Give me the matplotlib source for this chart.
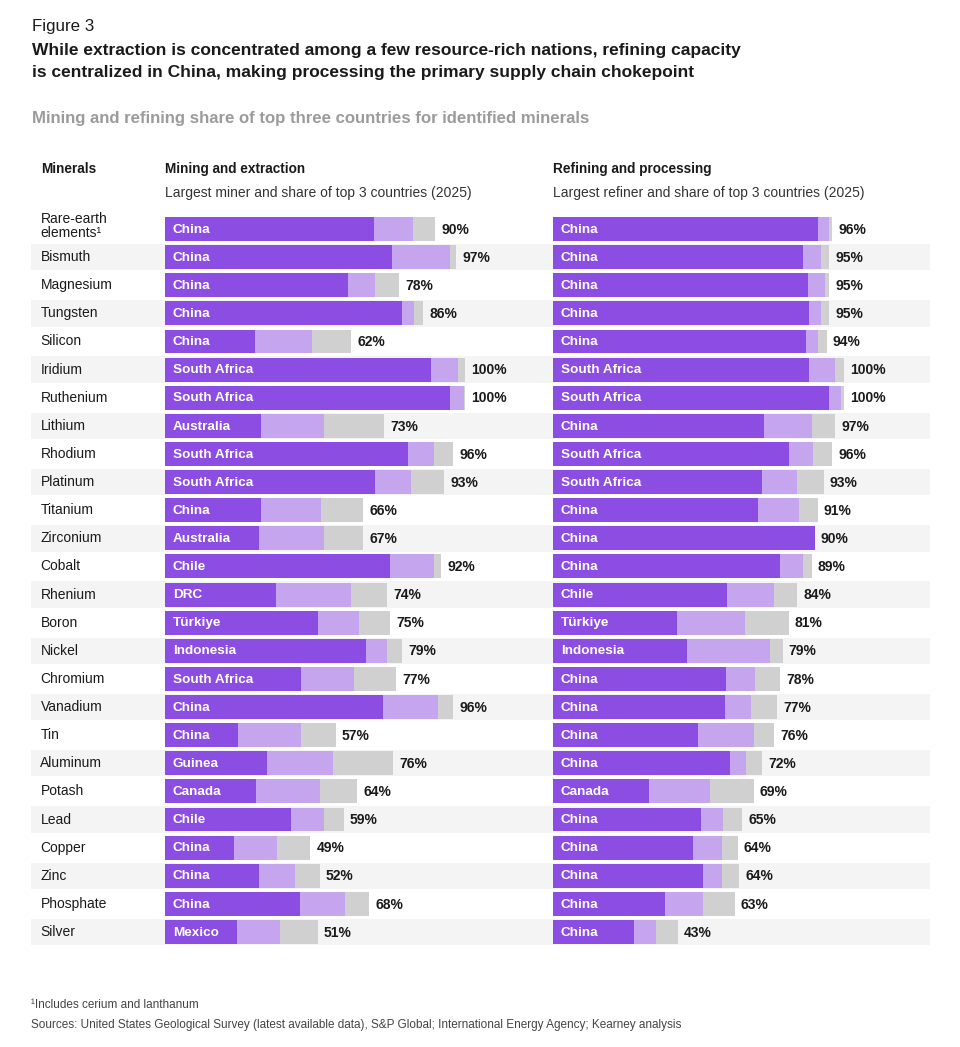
import numpy as np
import matplotlib

matplotlib.use("Agg")

import matplotlib.pyplot as plt

plt.rcParams["font.family"] = ["Liberation Sans", "DejaVu Sans"]

W, H = 960, 1047

DARK = "#8c4de3"
LIGHT = "#c6a5ef"
GREY = "#d0d0d0"
BAND = "#f4f4f4"
INK = "#1a1a1a"

minerals = [
    "Rare-earth\nelements¹", "Bismuth", "Magnesium", "Tungsten", "Silicon", "Iridium",
    "Ruthenium", "Lithium", "Rhodium", "Platinum", "Titanium", "Zirconium", "Cobalt",
    "Rhenium", "Boron", "Nickel", "Chromium", "Vanadium", "Tin", "Aluminum", "Potash",
    "Lead", "Copper", "Zinc", "Phosphate", "Silver",
]

# mining and extraction
mine_leader = [
    "China", "China", "China", "China", "China", "South Africa", "South Africa", "Australia",
    "South Africa", "South Africa", "China", "Australia", "Chile", "DRC", "Türkiye",
    "Indonesia", "South Africa", "China", "China", "Guinea", "Canada", "Chile", "China",
    "China", "China", "Mexico",
]
mine_first = [69.5, 75.5, 61, 79, 30, 88.5, 95, 32, 81, 70, 32, 31.5, 75, 37, 51, 67,
              45.5, 72.5, 24.5, 34, 30.5, 42, 23, 31.5, 45, 24]
mine_second = [13, 19.5, 9, 4, 19, 9, 4.5, 21, 8.5, 12, 20, 21.5, 14.5, 25, 13.5, 7,
               17.5, 18.5, 21, 22, 21, 11, 14.5, 12, 15, 14.5]
mine_third = [7.5, 2, 8, 3, 13, 2.5, 0.5, 20, 6.5, 11, 14, 13, 2.5, 12, 10.5, 5,
              14, 5, 11.5, 20, 12.5, 6.5, 11, 8, 8, 12.5]
mine_total = ["90%", "97%", "78%", "86%", "62%", "100%", "100%", "73%", "96%", "93%",
              "66%", "67%", "92%", "74%", "75%", "79%", "77%", "96%", "57%", "76%",
              "64%", "59%", "49%", "52%", "68%", "51%"]

# refining and processing
refine_leader = [
    "China", "China", "China", "China", "China", "South Africa", "South Africa", "China",
    "South Africa", "South Africa", "China", "China", "China", "Chile", "Türkiye",
    "Indonesia", "China", "China", "China", "China", "Canada", "China", "China", "China",
    "China", "China",
]
refine_first = [91, 86, 87.5, 88, 87, 88, 95, 72.5, 81, 72, 70.5, 90, 78, 60, 42.5, 46,
                59.5, 59, 50, 61, 33, 51, 48, 51.5, 38.5, 28]
refine_second = [4, 6, 6, 4, 4, 9, 4, 16.5, 8.5, 12, 14, 0, 8, 16, 23.5, 28.5,
                 10, 9, 19, 5.5, 21, 7.5, 10, 6.5, 13, 7.5]
refine_third = [1, 3, 1.5, 3, 3, 3, 1, 8, 6.5, 9, 6.5, 0, 3, 8, 15, 4.5,
                8.5, 9, 7, 5.5, 15, 6.5, 5.5, 6, 11, 7.5]
refine_total = ["96%", "95%", "95%", "95%", "94%", "100%", "100%", "97%", "96%", "93%",
                "91%", "90%", "89%", "84%", "81%", "79%", "78%", "77%", "76%", "72%",
                "69%", "65%", "64%", "64%", "63%", "43%"]


def px_axes(fig, x0, y0, x1, y1):
    return fig.add_axes([x0 / W, 1 - y1 / H, (x1 - x0) / W, (y1 - y0) / H])


def ftext(fig, x, y, s, **kw):
    fig.text(x / W, 1 - y / H, s, **kw)


fig = plt.figure(figsize=(W / 100, H / 100), dpi=100)
fig.patch.set_facecolor("white")

n = len(minerals)
rows = np.arange(n)
pitch = 28.12
top = 229 - pitch / 2
bottom = top + pitch * n

# background bands and mineral names
bg = px_axes(fig, 31, top, 930, bottom)
bg.set_xlim(0, 1)
bg.set_ylim(n - 0.5, -0.5)
bg.axis("off")
odd = rows[rows % 2 == 1]
bg.barh(odd, 1, left=0, height=0.94, color=BAND, edgecolor="none")
for i, name in zip(rows, minerals):
    bg.text(0.0105, i - (0.1 if "\n" in name else 0), name, fontsize=10, color=INK,
            ha="left", va="center", linespacing=0.95)


def panel(x0, scale, first, second, third, leader, total):
    ax = px_axes(fig, x0, top, x0 + scale * 120, bottom)
    ax.set_xlim(0, 120)
    ax.set_ylim(n - 0.5, -0.5)
    ax.axis("off")
    ax.patch.set_alpha(0)
    first = np.array(first)
    second = np.array(second)
    third = np.array(third)
    ax.barh(rows, first, height=0.85, color=DARK, edgecolor="none")
    ax.barh(rows, second, left=first, height=0.85, color=LIGHT, edgecolor="none")
    ax.barh(rows, third, left=first + second, height=0.85, color=GREY, edgecolor="none")
    ends = first + second + third
    for i in rows:
        ax.annotate(leader[i], (0, i), xytext=(5.8, -0.5), textcoords="offset points",
                    fontsize=9.7, fontweight="bold", color="white", ha="left", va="center")
        ax.annotate(total[i], (ends[i], i), xytext=(4.3, -0.5), textcoords="offset points",
                    fontsize=10, fontweight="bold", color=INK, ha="left", va="center")
    return ax


panel(164.7, 3.006, mine_first, mine_second, mine_third, mine_leader, mine_total)
panel(552.7, 2.913, refine_first, refine_second, refine_third, refine_leader, refine_total)

# titles and headers
ftext(fig, 32, 27, "Figure 3", fontsize=12.2, color=INK, va="center")
ftext(fig, 32, 50, "While extraction is concentrated among a few resource-rich nations, refining capacity",
      fontsize=12.5, fontweight="bold", color=INK, va="center")
ftext(fig, 32, 72, "is centralized in China, making processing the primary supply chain chokepoint",
      fontsize=12.5, fontweight="bold", color=INK, va="center")
ftext(fig, 32, 119, "Mining and refining share of top three countries for identified minerals",
      fontsize=12.1, fontweight="bold", color="#9b9b9b", va="center")

ftext(fig, 41, 169, "Minerals", fontsize=9.8, fontweight="bold", color=INK, va="center")
ftext(fig, 165, 169, "Mining and extraction", fontsize=9.8, fontweight="bold", color=INK, va="center")
ftext(fig, 553, 169, "Refining and processing", fontsize=9.8, fontweight="bold", color=INK, va="center")
ftext(fig, 165, 193, "Largest miner and share of top 3 countries (2025)", fontsize=10, color="#333333",
      va="center")
ftext(fig, 553, 193, "Largest refiner and share of top 3 countries (2025)", fontsize=10, color="#333333",
      va="center")

ftext(fig, 31, 1005, "¹Includes cerium and lanthanum", fontsize=8.5, color="#444444", va="center")
ftext(fig, 31, 1025,
      "Sources: United States Geological Survey (latest available data), S&P Global; "
      "International Energy Agency; Kearney analysis",
      fontsize=8.5, color="#444444", va="center")

fig.savefig("out.png", dpi=100, facecolor="white")
